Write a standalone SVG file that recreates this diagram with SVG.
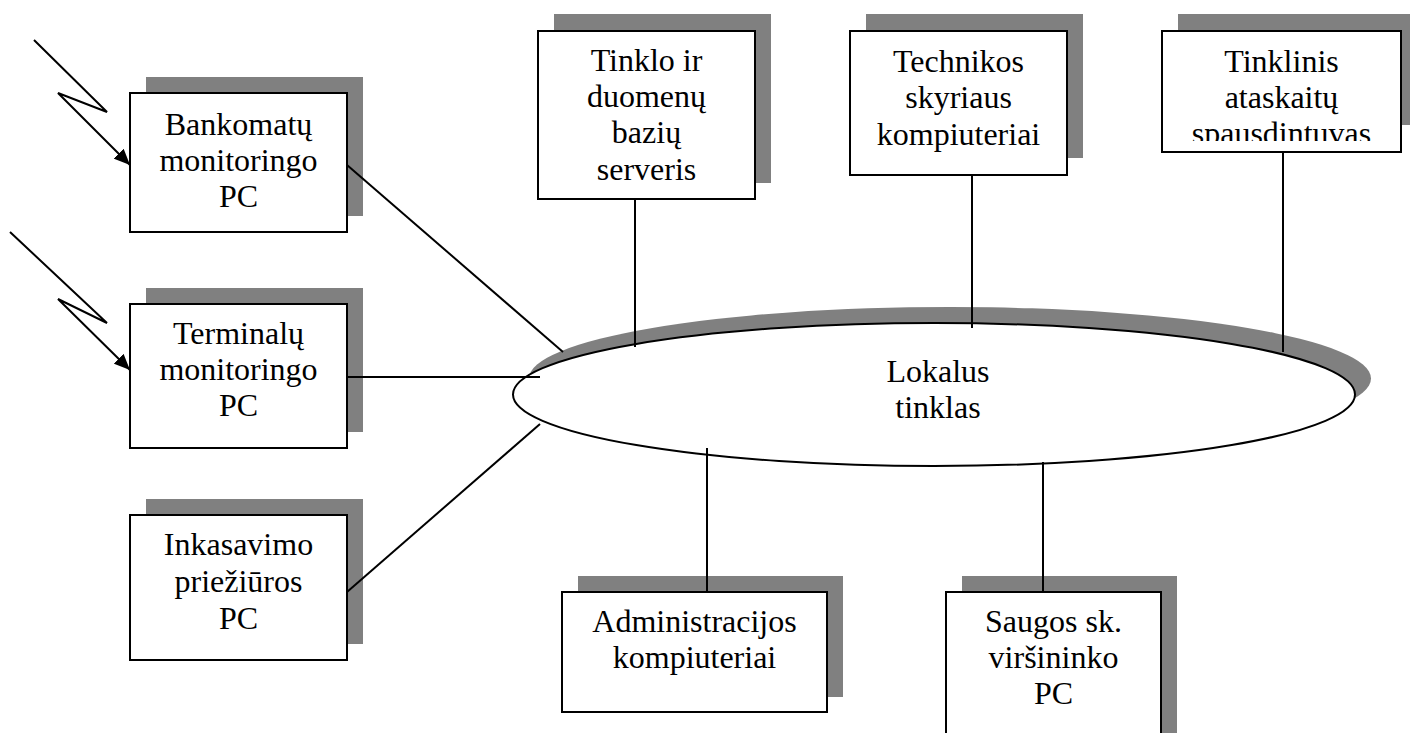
<svg xmlns="http://www.w3.org/2000/svg" width="1410" height="733" viewBox="0 0 1410 733">
  <style>
    .shadow { fill: #808080; stroke: none; }
    .box { fill: #ffffff; stroke: #000000; stroke-width: 2; }
    .label { font-family: "Liberation Serif", "Times New Roman", serif; font-size: 32px; fill: #000000; text-anchor: middle; }
    .wire { stroke: #000000; stroke-width: 2; fill: none; }
  </style>
  <defs>
    <marker id="arrow" viewBox="0 0 16 14" refX="16" refY="7" markerWidth="16" markerHeight="14" markerUnits="userSpaceOnUse" orient="auto">
      <path d="M0,0 L16,7 L0,14 Z" fill="#000000"/>
    </marker>
    <clipPath id="printer-clip">
      <rect x="1162" y="31" width="239" height="110"/>
    </clipPath>
  </defs>

  <rect width="1410" height="733" fill="#ffffff"/>

  <!-- local network ring -->
  <g id="lan">
    <ellipse class="shadow" cx="950" cy="378.5" rx="421" ry="71.5"/>
    <ellipse cx="934" cy="394.5" rx="421" ry="71.5" fill="#ffffff" stroke="#000000" stroke-width="2"/>
    <text class="label" x="938" y="382">Lokalus</text>
    <text class="label" x="938" y="418">tinklas</text>
  </g>

  <g id="atm-pc">
    <rect class="shadow" x="146" y="77" width="217" height="139"/>
    <rect class="box" x="130" y="93" width="217" height="139"/>
    <text class="label" x="238.5" y="135">Bankomatų</text>
    <text class="label" x="238.5" y="171">monitoringo</text>
    <text class="label" x="238.5" y="207">PC</text>
  </g>

  <g id="terminal-pc">
    <rect class="shadow" x="146" y="288" width="217" height="144"/>
    <rect class="box" x="130" y="304" width="217" height="144"/>
    <text class="label" x="238.5" y="344">Terminalų</text>
    <text class="label" x="238.5" y="380">monitoringo</text>
    <text class="label" x="238.5" y="416">PC</text>
  </g>

  <g id="collection-pc">
    <rect class="shadow" x="146" y="499" width="217" height="145"/>
    <rect class="box" x="130" y="515" width="217" height="145"/>
    <text class="label" x="238.5" y="555">Inkasavimo</text>
    <text class="label" x="238.5" y="592">priežiūros</text>
    <text class="label" x="238.5" y="629">PC</text>
  </g>

  <g id="db-server">
    <rect class="shadow" x="554" y="14" width="217" height="169"/>
    <rect class="box" x="538" y="31" width="217" height="168"/>
    <text class="label" x="646.5" y="71">Tinklo ir</text>
    <text class="label" x="646.5" y="107">duomenų</text>
    <text class="label" x="646.5" y="143">bazių</text>
    <text class="label" x="646.5" y="180">serveris</text>
  </g>

  <g id="tech-pcs">
    <rect class="shadow" x="866" y="14" width="217" height="144"/>
    <rect class="box" x="850" y="31" width="217" height="144"/>
    <text class="label" x="958.5" y="72">Technikos</text>
    <text class="label" x="958.5" y="108">skyriaus</text>
    <text class="label" x="958.5" y="145">kompiuteriai</text>
  </g>

  <g id="report-printer">
    <rect class="shadow" x="1178" y="14" width="232" height="111"/>
    <rect class="box" x="1162" y="31" width="239" height="121"/>
    <g clip-path="url(#printer-clip)">
      <text class="label" x="1281.5" y="72">Tinklinis</text>
      <text class="label" x="1281.5" y="108">ataskaitų</text>
      <text class="label" x="1281.5" y="144">spausdintuvas</text>
    </g>
  </g>

  <g id="admin-pcs">
    <rect class="shadow" x="578" y="576" width="265" height="121"/>
    <rect class="box" x="562" y="592" width="265" height="120"/>
    <text class="label" x="694.5" y="632">Administracijos</text>
    <text class="label" x="694.5" y="668">kompiuteriai</text>
  </g>

  <g id="security-pc">
    <rect class="shadow" x="962" y="576" width="215" height="160"/>
    <rect class="box" x="946" y="592" width="215" height="150"/>
    <text class="label" x="1053.5" y="632">Saugos sk.</text>
    <text class="label" x="1053.5" y="668">viršininko</text>
    <text class="label" x="1053.5" y="704">PC</text>
  </g>

  <!-- links -->
  <g id="connectors">
    <polyline class="wire" points="34,40 107,112 58,93 130,165" marker-end="url(#arrow)"/>
    <polyline class="wire" points="10,232 107,323 58,299 130,370" marker-end="url(#arrow)"/>
    <line class="wire" x1="347" y1="165" x2="563" y2="352"/>
    <line class="wire" x1="347" y1="377" x2="540" y2="377"/>
    <line class="wire" x1="347" y1="592" x2="540" y2="424"/>
    <line class="wire" x1="635" y1="199" x2="635" y2="347"/>
    <line class="wire" x1="972" y1="175" x2="972" y2="328"/>
    <line class="wire" x1="1283" y1="152" x2="1283" y2="352"/>
    <line class="wire" x1="707" y1="448" x2="707" y2="592"/>
    <line class="wire" x1="1043" y1="462" x2="1043" y2="592"/>
  </g>
</svg>
